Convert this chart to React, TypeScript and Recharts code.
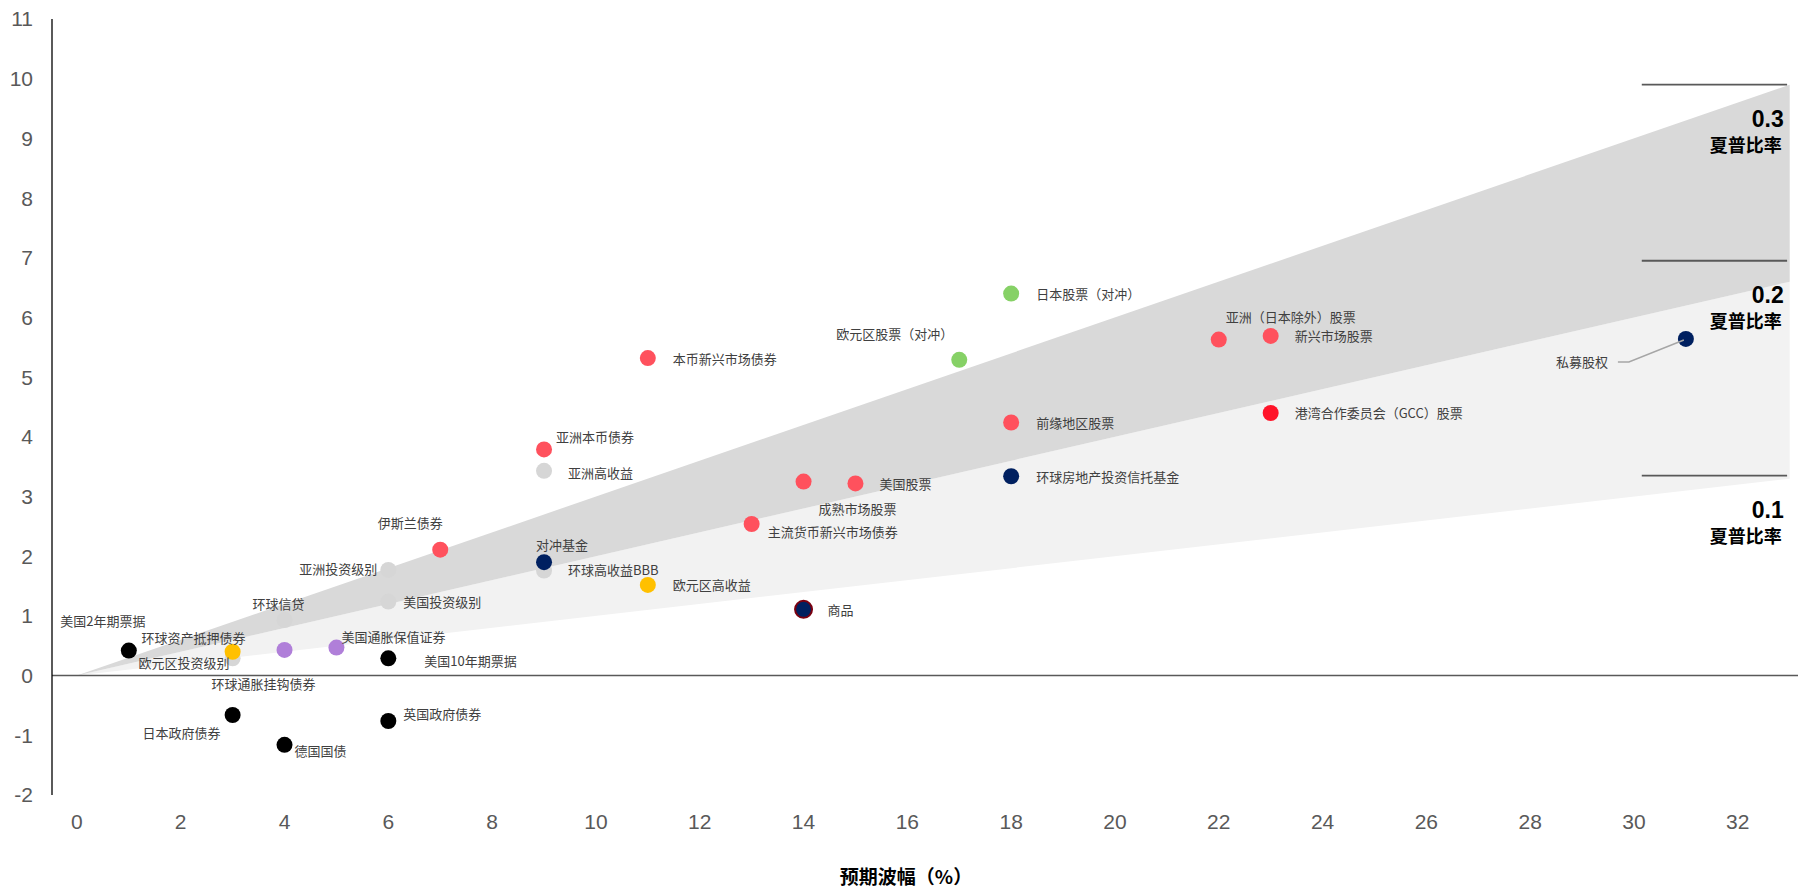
import { ComposedChart, Area, Scatter, XAxis, YAxis, ReferenceLine, Label } from "recharts";

// asset classes: expected volatility (x) vs expected return (y)
const assetNames = [
  "欧元区投资级别", "环球信贷", "亚洲投资级别", "美国投资级别", "亚洲高收益", "环球高收益BBB",
  "美国2年期票据", "日本政府债券", "德国国债", "美国10年期票据", "英国政府债券",
  "环球资产抵押债券", "欧元区高收益",
  "环球通胀挂钩债券", "美国通胀保值证券",
  "伊斯兰债券", "亚洲本币债券", "本币新兴市场债券", "主流货币新兴市场债券", "成熟市场股票",
  "美国股票", "前缘地区股票", "亚洲（日本除外）股票", "新兴市场股票",
  "港湾合作委员会（GCC）股票",
  "欧元区股票（对冲）", "日本股票（对冲）",
  "对冲基金", "环球房地产投资信托基金", "私募股权",
  "商品",
];
const expectedVol = [
  3, 4, 6, 6, 9, 9,
  1, 3, 4, 6, 6,
  3, 11,
  4, 5,
  7, 9, 11, 13, 14,
  15, 18, 22, 23,
  23,
  17, 18,
  9, 18, 31,
  14,
];
const expectedReturn = [
  0.29, 0.93, 1.77, 1.24, 3.43, 1.76,
  0.42, -0.66, -1.16, 0.29, -0.76,
  0.4, 1.52,
  0.43, 0.47,
  2.11, 3.79, 5.32, 2.54, 3.25,
  3.22, 4.24, 5.63, 5.69,
  4.4,
  5.29, 6.4,
  1.9, 3.34, 5.64,
  1.11,
];
const assetGroup = [
  "credit", "credit", "credit", "credit", "credit", "credit",
  "govt", "govt", "govt", "govt", "govt",
  "yellow", "yellow",
  "linker", "linker",
  "red", "red", "red", "red", "red",
  "red", "red", "red", "red",
  "gcc",
  "green", "green",
  "alt", "alt", "alt",
  "commodity",
];

// Sharpe ratio cones
const bandVol = [0, 33];
const bandLow = [0, 3.3];
const bandMid = [0, 6.6];
const bandHigh = [0, 9.9];

const sharpeLabels = ["0.3", "0.2", "0.1"];
const sharpeLineY = [9.9, 6.95, 3.35];

const xTicks = [0, 2, 4, 6, 8, 10, 12, 14, 16, 18, 20, 22, 24, 26, 28, 30, 32];
const yTicks = [-2, -1, 0, 1, 2, 3, 4, 5, 6, 7, 8, 9, 10, 11];

const groupColor: Record<string, string> = {
  credit: "#D6D6D6",
  govt: "#000000",
  yellow: "#FFC000",
  linker: "#B07FD9",
  red: "#FF515D",
  gcc: "#FF1429",
  green: "#86D166",
  alt: "#002060",
  commodity: "#002060",
};

// [dx, dy, anchor] relative to the dot centre
const placement: Record<string, [number, number, string]> = {
  "美国2年期票据": [-26, -30, "middle"],
  "环球资产抵押债券": [-39, -14, "middle"],
  "欧元区投资级别": [-3, 4, "end"],
  "环球通胀挂钩债券": [-21, 34, "middle"],
  "日本政府债券": [-12, 17, "end"],
  "德国国债": [10, 6, "start"],
  "环球信贷": [-6, -17, "middle"],
  "美国通胀保值证券": [5, -11, "start"],
  "美国10年期票据": [36, 2, "start"],
  "英国政府债券": [15, -7, "start"],
  "亚洲投资级别": [-11, -1, "end"],
  "美国投资级别": [15, 0, "start"],
  "伊斯兰债券": [-30, -27, "middle"],
  "对冲基金": [18, -18, "middle"],
  "环球高收益BBB": [24, -1, "start"],
  "亚洲本币债券": [12, -13, "start"],
  "亚洲高收益": [24, 2, "start"],
  "欧元区高收益": [25, 0, "start"],
  "本币新兴市场债券": [25, 0, "start"],
  "主流货币新兴市场债券": [16, 8, "start"],
  "成熟市场股票": [15, 27, "start"],
  "美国股票": [24, 0, "start"],
  "商品": [24, 0, "start"],
  "欧元区股票（对冲）": [-6, -26, "end"],
  "日本股票（对冲）": [25, 0, "start"],
  "前缘地区股票": [25, 0, "start"],
  "环球房地产投资信托基金": [25, 0, "start"],
  "亚洲（日本除外）股票": [7, -23, "start"],
  "新兴市场股票": [24, 0, "start"],
  "港湾合作委员会（GCC）股票": [24, 0, "start"],
  "私募股权": [-78, 23, "end"],
};

const points = assetNames.map((name, i) => ({
  name,
  x: expectedVol[i],
  y: expectedReturn[i],
  group: assetGroup[i],
}));

const bands = bandVol.map((v, i) => ({ x: v, lo: bandLow[i], mid: bandMid[i], hi: bandHigh[i] }));

const sharpeMarks = sharpeLabels.map((label, i) => ({ label, x: 33, y: sharpeLineY[i] }));

const cjk = "'Noto Sans CJK SC', 'Noto Sans', sans-serif";
const latin = "'Liberation Sans', Arial, sans-serif";

const Dot = (props: any) => {
  const { cx, cy, payload } = props;
  if (cx == null || cy == null) return <g />;
  const isCommodity = payload.group === "commodity";
  return (
    <circle
      cx={cx}
      cy={cy}
      r={isCommodity ? 8.5 : 8}
      fill={groupColor[payload.group]}
      stroke={isCommodity ? "#7A0010" : "none"}
      strokeWidth={isCommodity ? 2 : 0}
    />
  );
};

const PointLabel = (props: any) => {
  const { cx, cy, payload } = props;
  const p = placement[payload.name];
  if (cx == null || !p) return <g />;
  const [dx, dy, anchor] = p;
  return (
    <g>
      {payload.name === "私募股权" && (
        <polyline
          points={`${cx - 68},${cy + 23} ${cx - 57},${cy + 23} ${cx - 2},${cy + 1}`}
          fill="none"
          stroke="#A6A6A6"
          strokeWidth={1.5}
        />
      )}
      <text
        x={cx + dx}
        y={cy + dy}
        textAnchor={anchor as any}
        dominantBaseline="central"
        fontSize={13}
        fontFamily={cjk}
        fill="#404040"
      >
        {payload.name}
      </text>
    </g>
  );
};

const SharpeLabel = (props: any) => {
  const { cx, cy, payload } = props;
  if (cx == null) return <g />;
  return (
    <g fontWeight={700} fill="#000" textAnchor="end">
      <text x={cx - 6} y={cy + 34} dominantBaseline="central" fontSize={23} fontFamily={latin}>
        {payload.label}
      </text>
      <text x={cx - 8} y={cy + 59} dominantBaseline="central" fontSize={18} fontFamily={cjk}>
        夏普比率
      </text>
    </g>
  );
};

const XTitle = (props: any) => {
  const vb = props.viewBox;
  return (
    <text
      x={vb.x + vb.width / 2 - 19}
      y={vb.y + 80}
      textAnchor="middle"
      dominantBaseline="central"
      fontSize={19}
      fontWeight={700}
      fontFamily={cjk}
      fill="#000"
    >
      预期波幅（%）
    </text>
  );
};

export default function App() {
  return (
    <div style={{ width: 1798, height: 887 }}>
      <style>{"body{margin:0}"}</style>
      <ComposedChart
        width={1798}
        height={887}
        data={bands}
        margin={{ top: 19, right: 0, bottom: 0, left: 0 }}
      >
        <XAxis
          type="number"
          dataKey="x"
          domain={[-0.48, 33.16]}
          ticks={xTicks}
          allowDataOverflow
          axisLine={false}
          tickLine={false}
          tickSize={0}
          tickMargin={19}
          height={92}
          tick={{ fill: "#595959", fontSize: 21, fontFamily: latin }}
        >
          <Label content={XTitle} />
        </XAxis>
        <YAxis
          type="number"
          dataKey="y"
          domain={[-2, 11]}
          ticks={yTicks}
          allowDataOverflow
          width={52}
          axisLine={{ stroke: "#000", strokeWidth: 1.3 }}
          tickLine={false}
          tickSize={0}
          tickMargin={19}
          tick={{ fill: "#595959", fontSize: 21, fontFamily: latin }}
        />
        <Area
          type="linear"
          dataKey={(d: any) => [d.lo, d.mid]}
          fill="#F2F2F2"
          fillOpacity={1}
          stroke="none"
          isAnimationActive={false}
          activeDot={false}
        />
        <Area
          type="linear"
          dataKey={(d: any) => [d.mid, d.hi]}
          fill="#D9D9D9"
          fillOpacity={1}
          stroke="none"
          isAnimationActive={false}
          activeDot={false}
        />
        <ReferenceLine y={0} stroke="#595959" strokeWidth={1.5} />
        {sharpeMarks.map((m) => (
          <ReferenceLine
            key={m.label}
            segment={[{ x: 30.15, y: m.y }, { x: 32.95, y: m.y }]}
            stroke="#595959"
            strokeWidth={1.8}
          />
        ))}
        <Scatter data={points} dataKey="y" shape={Dot} isAnimationActive={false} />
        <Scatter data={points} dataKey="y" shape={PointLabel} isAnimationActive={false} />
        <Scatter data={sharpeMarks} dataKey="y" shape={SharpeLabel} isAnimationActive={false} />
      </ComposedChart>
    </div>
  );
}
